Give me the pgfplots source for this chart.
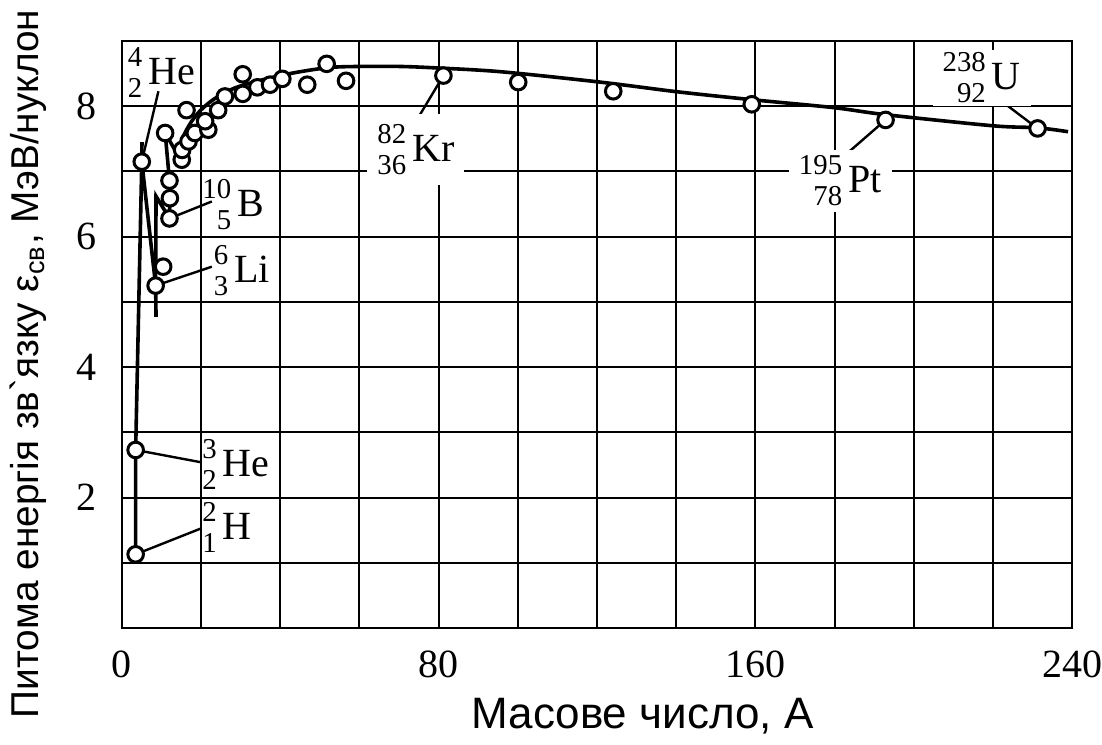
\documentclass[border=0pt]{standalone}
\usepackage{fontspec}
\setmainfont{Liberation Serif}
\newfontfamily\arial{Liberation Sans}
\usepackage{pgfplots}
\pgfplotsset{compat=1.18}
\newcommand\iso[3]{\mbox{\fontsize{7.2}{7.2}\selectfont\setbox0=\hbox{#1}\setbox2=\hbox{#2}%
  \dimen0=\wd0 \ifdim\wd2>\dimen0 \dimen0=\wd2\fi
  \rlap{\hbox to\dimen0{\hfill\raisebox{4.5pt}{\box0}}}\hbox to\dimen0{\hfill\raisebox{-3.25pt}{\box2}}}\kern1.5pt#3}
\begin{document}
\begin{tikzpicture}
\path[use as bounding box] (-30.5pt,-29pt) rectangle (245pt,157pt);
\begin{axis}[
  scale only axis, width=237.5pt, height=146.75pt,
  xmin=0, xmax=240, ymin=0, ymax=9,
  xtick={0,20,...,240}, xticklabels={0,,,,80,,,,160,,,,240},
  ytick={0,1,...,9}, yticklabels={,,2,,4,,6,,8,},
  grid=major, major grid style={line width=0.5pt, black},
  major tick length=0pt,
  axis line style={line width=0.65pt, black},
  tick label style={font=\fontsize{10}{12}\selectfont},
  xticklabel style={anchor=north, inner sep=0pt, yshift=-5.5pt},
  yticklabel style={anchor=east, inner sep=0pt, xshift=-6.25pt},
  xlabel={\arial\fontsize{11}{13}\selectfont Масове число, А},
  xlabel style={at={(axis description cs:0.367,-0.172)}, anchor=base west, inner sep=0pt},
  ylabel={\arial\fontsize{9.7}{12}\selectfont Питома енергія зв\symbol{96}язку ε\textsubscript{св}, МэВ/нуклон},
  ylabel style={at={(axis description cs:-0.079,0.45)}, anchor=south, inner sep=0pt},
  clip=false,
  every node/.append style={font=\fontsize{10.3}{12}\selectfont},
]
% curve pieces
\addplot[line width=0.9pt, black] coordinates {(3.45,1.13) (3.45,2.73) (5.0,7.15) (5.05,7.45)};
\addplot[line width=0.9pt, black] coordinates {(5.0,7.15) (8.5,5.25)};
\addplot[line width=0.9pt, black] coordinates {(8.6,4.77) (8.5,5.25) (8.6,6.62) (12.0,6.28)};
\addplot[line width=0.9pt, black] coordinates {(12.0,6.28) (12.1,6.59) (12.0,6.86) (10.9,7.59) (14.6,7.2)};
\addplot[line width=0.9pt, black, smooth, tension=0.5] coordinates {
 (14.2,7.30) (15.5,7.54) (17.5,7.76) (19.9,7.94) (23.5,8.12) (29.4,8.30) (40.7,8.48)
 (51.8,8.59) (60.1,8.61) (70,8.61) (78.6,8.59) (95.5,8.53) (120.8,8.37) (140.5,8.22)
 (159.2,8.10) (179.6,7.98) (193,7.87) (220.1,7.70) (231.2,7.67) (239,7.61)};
% leaders
\addplot[line width=0.6pt, black] coordinates {(5.0,7.15) (9.2,8.23)};
\addplot[line width=0.6pt, black] coordinates {(12.0,6.28) (22.7,6.54)};
\addplot[line width=0.6pt, black] coordinates {(8.5,5.25) (22.7,5.54)};
\addplot[line width=0.6pt, black] coordinates {(3.45,2.73) (20.1,2.54)};
\addplot[line width=0.6pt, black] coordinates {(3.45,1.13) (20.1,1.53)};
\addplot[line width=0.6pt, black] coordinates {(81.2,8.47) (73.2,7.66)};
\addplot[line width=0.6pt, black] coordinates {(192.9,7.79) (182.3,7.23)};
\addplot[line width=0.6pt, black] coordinates {(231.3,7.66) (219.3,8.21)};
% data points
\addplot[only marks, mark=*, mark size=1.95pt, mark options={fill=white, draw=black, line width=0.75pt}] coordinates {
 (3.45,1.13) (3.45,2.73) (5.0,7.15) (8.5,5.25) (10.4,5.54) (12.0,6.28) (12.1,6.59) (12.0,6.86)
 (10.9,7.59) (15.1,7.18) (15.2,7.33) (16.8,7.46) (18.4,7.59) (21.8,7.64) (21.0,7.77) (16.3,7.94)
 (24.3,7.94) (26.0,8.15) (30.5,8.19) (30.5,8.49) (34.2,8.29) (37.4,8.33) (40.5,8.42) (46.8,8.33)
 (51.7,8.65) (56.6,8.39) (81.2,8.47) (100.1,8.37) (124.1,8.23) (159.1,8.03) (192.9,7.79) (231.3,7.66)};
% labels
\node[anchor=base west, inner sep=0pt] at (axis cs:1.26,8.33) {\iso{4}{2}{He}};
\node[anchor=base west, inner sep=0pt] at (axis cs:20.1,6.31) {\iso{10}{5}{B}};
\node[anchor=base west, inner sep=0pt] at (axis cs:23.0,5.29) {\iso{6}{3}{Li}};
\node[anchor=base west, inner sep=0pt] at (axis cs:20.1,2.32) {\iso{3}{2}{He}};
\node[anchor=base west, inner sep=0pt] at (axis cs:20.1,1.35) {\iso{2}{1}{H}};
\node[anchor=base west, fill=white, inner xsep=2.5pt, inner ysep=2.6pt] at (axis cs:61.8,7.15) {\iso{82}{36}{Kr}};
\node[anchor=base west, fill=white, inner xsep=2.5pt, inner ysep=1.5pt] at (axis cs:168.3,6.67) {\iso{195}{78}{Pt}};
\node[anchor=base west, fill=white, inner xsep=2.5pt, inner ysep=0.7pt] at (axis cs:204.6,8.25) {\iso{238}{92}{U}};
\end{axis}
\end{tikzpicture}
\end{document}
